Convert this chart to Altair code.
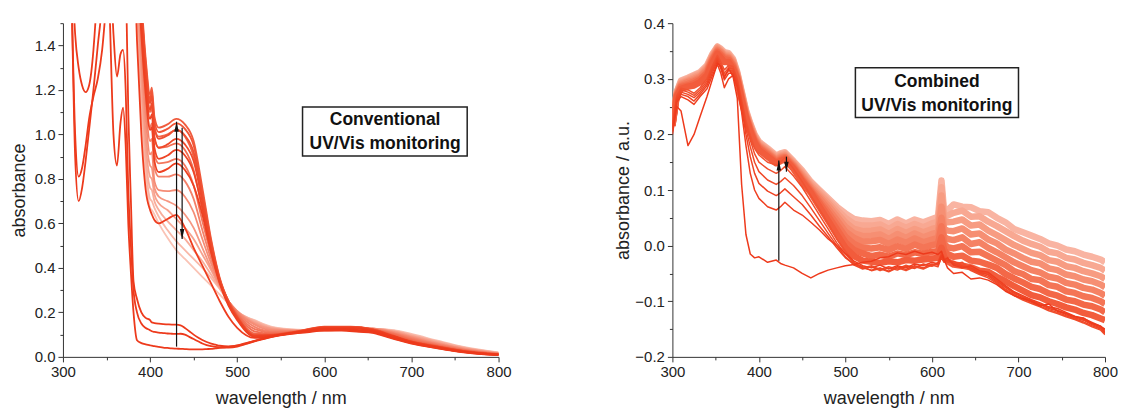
import altair as alt
import pandas as pd

# ---------------- LEFT PANEL: conventional UV/Vis monitoring ----------------
W1 = [300, 305, 310, 314, 318, 322, 326, 330, 335, 340,
      345, 350, 354, 358, 362, 366, 369, 372, 375, 378,
      381, 385, 390, 395, 400, 402, 405, 410, 415, 420,
      425, 430, 435, 440, 445, 450, 455, 460, 465, 470,
      475, 480, 490, 500, 510, 520, 530, 540, 560, 580,
      600, 620, 640, 655, 670, 685, 700, 720, 740, 760,
      780, 800]

A = [3.0, 2.4, 1.6, 0.9, 0.70, 0.76, 0.88, 1.02, 1.2, 1.4,
     1.6, 2.0, 1.5, 1.0, 0.86, 1.05, 1.12, 0.95, 0.6, 0.38,
     0.2, 0.075, 0.062, 0.056, 0.052, 0.05, 0.048, 0.045, 0.042, 0.04,
     0.038, 0.037, 0.036, 0.035, 0.034, 0.034, 0.034, 0.034, 0.035, 0.036,
     0.038, 0.04, 0.045, 0.052, 0.062, 0.072, 0.082, 0.09, 0.102, 0.11,
     0.118, 0.118, 0.112, 0.108, 0.092, 0.075, 0.06, 0.045, 0.032, 0.02,
     0.012, 0.008]
B = [3.0, 2.4, 1.6, 1.0, 0.81, 0.85, 0.95, 1.07, 1.17, 1.25,
     1.38, 1.6, 1.75, 1.45, 1.26, 1.36, 1.38, 1.2, 0.75, 0.5,
     0.3, 0.2, 0.15, 0.13, 0.12, 0.115, 0.112, 0.109, 0.107, 0.105,
     0.104, 0.103, 0.104, 0.1, 0.09, 0.08, 0.07, 0.06, 0.053, 0.048,
     0.045, 0.043, 0.042, 0.046, 0.058, 0.07, 0.08, 0.09, 0.104, 0.113,
     0.122, 0.122, 0.116, 0.112, 0.095, 0.077, 0.062, 0.046, 0.033, 0.021,
     0.013, 0.009]
C = [3.0, 2.5, 1.8, 1.45, 1.3, 1.22, 1.19, 1.22, 1.38, 1.7,
     2.2, 2.4, 2.3, 2.1, 1.9, 2.0, 2.0, 1.75, 1.1, 0.7,
     0.34, 0.26, 0.2, 0.175, 0.165, 0.155, 0.152, 0.149, 0.147, 0.146,
     0.145, 0.145, 0.142, 0.13, 0.115, 0.1, 0.087, 0.076, 0.067, 0.06,
     0.055, 0.05, 0.047, 0.05, 0.06, 0.072, 0.083, 0.093, 0.107, 0.117,
     0.126, 0.126, 0.12, 0.115, 0.098, 0.08, 0.064, 0.048, 0.034, 0.022,
     0.014, 0.01]

W2 = [380, 385, 390, 395, 400, 402, 405, 410, 420, 430,
      440, 450, 460, 470, 480, 490, 500, 520, 540, 570,
      600, 630, 655, 680, 700, 730, 760, 800]

D = [2.0, 1.42, 1.0, 0.75, 0.66, 0.64, 0.615, 0.60, 0.62, 0.638, 0.58, 0.49, 0.41, 0.33, 0.25, 0.18, 0.13, 0.085, 0.093, 0.11, 0.128, 0.128, 0.118, 0.092, 0.066, 0.043, 0.023, 0.01]
E1 = [2.3, 1.8, 1.45, 1.18, 1.02, 1.03, 0.88, 0.83, 0.845, 0.87, 0.84, 0.77, 0.64, 0.47, 0.33, 0.23, 0.165, 0.09, 0.095, 0.112, 0.13, 0.13, 0.12, 0.09, 0.066, 0.044, 0.024, 0.01]
E2 = [2.4, 1.85, 1.5, 1.22, 1.07, 1.09, 0.94, 0.89, 0.905, 0.93, 0.905, 0.83, 0.67, 0.48, 0.335, 0.235, 0.172, 0.093, 0.096, 0.112, 0.132, 0.132, 0.121, 0.091, 0.067, 0.045, 0.025, 0.01]
E3 = [2.4, 1.9, 1.55, 1.27, 1.11, 1.14, 0.99, 0.94, 0.955, 0.98, 0.955, 0.88, 0.70, 0.50, 0.34, 0.24, 0.175, 0.095, 0.097, 0.113, 0.133, 0.133, 0.122, 0.092, 0.068, 0.045, 0.025, 0.01]
E4 = [2.5, 1.95, 1.58, 1.3, 1.14, 1.17, 1.03, 0.98, 0.995, 1.02, 0.995, 0.92, 0.72, 0.51, 0.345, 0.245, 0.178, 0.096, 0.098, 0.114, 0.134, 0.134, 0.123, 0.092, 0.068, 0.046, 0.026, 0.011]
E5 = [2.5, 2.0, 1.6, 1.32, 1.16, 1.19, 1.06, 1.01, 1.025, 1.05, 1.025, 0.95, 0.74, 0.52, 0.35, 0.248, 0.18, 0.097, 0.099, 0.115, 0.135, 0.135, 0.124, 0.093, 0.069, 0.046, 0.026, 0.011]
E6 = [2.5, 2.0, 1.62, 1.34, 1.18, 1.21, 1.08, 1.03, 1.045, 1.07, 1.045, 0.97, 0.76, 0.53, 0.355, 0.25, 0.18, 0.098, 0.1, 0.116, 0.136, 0.136, 0.125, 0.094, 0.07, 0.047, 0.027, 0.011]
F1 = [2.5, 1.95, 1.58, 1.3, 1.15, 1.17, 1.03, 0.99, 1.0, 1.02, 0.99, 0.90, 0.70, 0.50, 0.345, 0.25, 0.185, 0.105, 0.1, 0.112, 0.13, 0.132, 0.123, 0.096, 0.072, 0.048, 0.027, 0.011]
F2 = [2.4, 1.9, 1.53, 1.25, 1.10, 1.12, 0.98, 0.94, 0.945, 0.96, 0.93, 0.84, 0.66, 0.48, 0.34, 0.25, 0.19, 0.115, 0.105, 0.113, 0.13, 0.132, 0.124, 0.1, 0.076, 0.05, 0.029, 0.012]
F3 = [2.3, 1.85, 1.47, 1.19, 1.03, 1.05, 0.91, 0.87, 0.875, 0.89, 0.86, 0.77, 0.61, 0.46, 0.335, 0.25, 0.195, 0.125, 0.11, 0.115, 0.128, 0.131, 0.125, 0.103, 0.08, 0.053, 0.031, 0.013]
F4 = [2.2, 1.8, 1.42, 1.13, 0.97, 0.98, 0.85, 0.81, 0.81, 0.82, 0.79, 0.71, 0.57, 0.44, 0.33, 0.25, 0.2, 0.135, 0.115, 0.116, 0.126, 0.13, 0.126, 0.106, 0.084, 0.056, 0.033, 0.014]
F5 = [2.2, 1.75, 1.36, 1.07, 0.91, 0.92, 0.79, 0.75, 0.745, 0.75, 0.72, 0.65, 0.53, 0.42, 0.325, 0.25, 0.205, 0.145, 0.12, 0.117, 0.124, 0.129, 0.127, 0.109, 0.088, 0.059, 0.035, 0.015]
F6 = [2.1, 1.7, 1.3, 1.0, 0.86, 0.85, 0.76, 0.72, 0.70, 0.68, 0.64, 0.58, 0.49, 0.40, 0.32, 0.25, 0.205, 0.15, 0.125, 0.118, 0.122, 0.128, 0.127, 0.112, 0.091, 0.062, 0.037, 0.016]
F7 = [2.1, 1.65, 1.25, 0.95, 0.81, 0.80, 0.73, 0.69, 0.66, 0.62, 0.58, 0.53, 0.46, 0.39, 0.315, 0.25, 0.205, 0.155, 0.128, 0.119, 0.12, 0.127, 0.127, 0.114, 0.094, 0.065, 0.039, 0.017]
F8 = [2.0, 1.6, 1.2, 0.9, 0.76, 0.75, 0.70, 0.66, 0.61, 0.57, 0.53, 0.48, 0.43, 0.37, 0.31, 0.25, 0.205, 0.16, 0.13, 0.12, 0.119, 0.126, 0.127, 0.116, 0.097, 0.068, 0.041, 0.018]
F9 = [2.0, 1.55, 1.15, 0.86, 0.71, 0.70, 0.67, 0.63, 0.57, 0.52, 0.48, 0.44, 0.40, 0.355, 0.305, 0.25, 0.205, 0.163, 0.133, 0.121, 0.118, 0.125, 0.127, 0.118, 0.1, 0.07, 0.043, 0.019]
F10 = [1.9, 1.5, 1.1, 0.82, 0.67, 0.66, 0.64, 0.60, 0.535, 0.48, 0.44, 0.40, 0.36, 0.32, 0.28, 0.24, 0.2, 0.165, 0.135, 0.122, 0.117, 0.124, 0.127, 0.12, 0.103, 0.073, 0.045, 0.02]

LEFT_SERIES = [("F10", W2, F10), ("F9", W2, F9), ("F8", W2, F8), ("F7", W2, F7),
               ("F6", W2, F6), ("F5", W2, F5), ("F4", W2, F4), ("F3", W2, F3),
               ("F2", W2, F2), ("F1", W2, F1), ("E6", W2, E6), ("E5", W2, E5),
               ("E4", W2, E4), ("E3", W2, E3), ("E2", W2, E2), ("E1", W2, E1),
               ("D", W2, D), ("C", W1, C), ("B", W1, B), ("A", W1, A)]
LEFT_COLORS = ["#fac3b5", "#f9b8a8", "#f8ad9b", "#f7a28e", "#f69782", "#f58c75",
               "#f48169", "#f3775d", "#f26d52", "#f16447", "#f05c3e", "#f05537",
               "#ef4f31", "#ef4a2b", "#ee4526", "#ee4122", "#ee3d1f", "#ed3a1c",
               "#ed3a1c", "#ed3a1c"]

# ---------------- RIGHT PANEL: combined UV/Vis monitoring ----------------
WR = [300, 305, 310, 318, 325, 332, 340, 346, 352, 356,
      360, 365, 370, 375, 380, 385, 390, 395, 400, 410,
      420, 425, 430, 440, 450, 460, 470, 480, 490, 500,
      510, 520, 530, 540, 550, 560, 570, 580, 590, 600,
      607, 611, 614, 618, 625, 635, 645, 655, 665, 675,
      685, 695, 705, 715, 725, 735, 745, 755, 765, 775,
      785, 795, 800]

R1 = [0.20, 0.25, 0.242, 0.18, 0.2, 0.232, 0.268, 0.298, 0.328, 0.322, 0.302, 0.318, 0.305, 0.265, 0.11,
      0.02, -0.015, -0.022, -0.02, -0.03, -0.026, -0.032, -0.035, -0.04, -0.05, -0.058, -0.05, -0.044, -0.04, -0.036,
      -0.034, -0.03, -0.028, -0.022, -0.02, -0.013, -0.016, -0.01, -0.015, -0.012, -0.016, -0.01, -0.025, -0.04, -0.05,
      -0.048, -0.06, -0.058, -0.062, -0.07, -0.082, -0.09, -0.095, -0.1, -0.108, -0.105, -0.118, -0.122, -0.128, -0.13,
      -0.14, -0.145, -0.15]
R2 = [0.205, 0.258, 0.268, 0.262, 0.254, 0.268, 0.282, 0.305, 0.326, 0.31, 0.284, 0.3, 0.306, 0.285, 0.24,
      0.18, 0.13, 0.1, 0.085, 0.07, 0.064, 0.07, 0.078, 0.064, 0.055, 0.042, 0.028, 0.012, 0.0, -0.014,
      -0.028, -0.036, -0.04, -0.035, -0.042, -0.036, -0.04, -0.033, -0.036, -0.03, -0.033, -0.018, -0.026, -0.022, -0.035,
      -0.04, -0.036, -0.045, -0.048, -0.06, -0.072, -0.083, -0.09, -0.097, -0.103, -0.11, -0.113, -0.12, -0.127, -0.131,
      -0.138, -0.145, -0.155]
R3 = [0.21, 0.262, 0.272, 0.268, 0.26, 0.272, 0.288, 0.31, 0.332, 0.318, 0.298, 0.31, 0.31, 0.29, 0.25,
      0.2, 0.16, 0.13, 0.112, 0.098, 0.09, 0.095, 0.102, 0.088, 0.074, 0.055, 0.035, 0.016, -0.004, -0.022,
      -0.033, -0.04, -0.044, -0.04, -0.046, -0.038, -0.043, -0.036, -0.04, -0.033, -0.035, -0.022, -0.03, -0.026, -0.032,
      -0.038, -0.04, -0.048, -0.052, -0.064, -0.075, -0.086, -0.093, -0.1, -0.106, -0.113, -0.117, -0.124, -0.13, -0.134,
      -0.142, -0.148, -0.157]
R4 = [0.212, 0.265, 0.276, 0.272, 0.266, 0.276, 0.292, 0.315, 0.335, 0.322, 0.305, 0.315, 0.314, 0.295, 0.255,
      0.21, 0.178, 0.15, 0.133, 0.118, 0.11, 0.115, 0.122, 0.108, 0.09, 0.068, 0.045, 0.022, 0.0, -0.02,
      -0.035, -0.042, -0.038, -0.045, -0.04, -0.044, -0.037, -0.041, -0.034, -0.036, -0.03, -0.015, -0.024, -0.03, -0.028,
      -0.036, -0.042, -0.05, -0.055, -0.066, -0.078, -0.088, -0.096, -0.102, -0.109, -0.115, -0.12, -0.126, -0.132, -0.137,
      -0.144, -0.15, -0.158]
R5 = [0.215, 0.268, 0.28, 0.276, 0.27, 0.28, 0.296, 0.32, 0.338, 0.326, 0.31, 0.32, 0.318, 0.298, 0.26,
      0.22, 0.19, 0.165, 0.15, 0.138, 0.13, 0.135, 0.142, 0.125, 0.105, 0.08, 0.055, 0.03, 0.005, -0.015,
      -0.032, -0.038, -0.045, -0.041, -0.047, -0.04, -0.045, -0.038, -0.042, -0.035, -0.038, -0.02, -0.028, -0.024, -0.034,
      -0.03, -0.045, -0.052, -0.058, -0.068, -0.08, -0.09, -0.098, -0.104, -0.11, -0.117, -0.122, -0.128, -0.133, -0.139,
      -0.146, -0.152, -0.16]
R6 = [0.218, 0.27, 0.283, 0.28, 0.274, 0.284, 0.3, 0.323, 0.342, 0.33, 0.316, 0.324, 0.322, 0.3, 0.262,
      0.225, 0.198, 0.175, 0.163, 0.15, 0.145, 0.15, 0.158, 0.138, 0.115, 0.09, 0.065, 0.04, 0.012, -0.01,
      -0.03, -0.04, -0.036, -0.043, -0.038, -0.042, -0.035, -0.04, -0.033, -0.037, -0.032, -0.012, -0.02, -0.028, -0.03,
      -0.034, -0.038, -0.046, -0.05, -0.062, -0.074, -0.084, -0.092, -0.098, -0.105, -0.111, -0.116, -0.122, -0.128, -0.133,
      -0.14, -0.146, -0.152]
L1 = [0.215, 0.268, 0.282, 0.286, 0.288, 0.294, 0.306, 0.328, 0.345, 0.338, 0.33, 0.33, 0.318, 0.298, 0.262,
      0.23, 0.205, 0.185, 0.172, 0.16, 0.148, 0.152, 0.155, 0.138, 0.115, 0.095, 0.07, 0.045, 0.02,
      -0.004, -0.019, -0.027, -0.029, -0.031, -0.028, -0.03, -0.026, -0.027, -0.025, -0.023, -0.022, -0.004, -0.02,
      -0.028, -0.034, -0.036, -0.039, -0.045, -0.047, -0.056, -0.064, -0.073, -0.081, -0.089, -0.093, -0.1, -0.105,
      -0.111, -0.115, -0.121, -0.125, -0.131, -0.134]
L2 = [0.216, 0.27, 0.285, 0.288, 0.292, 0.298, 0.31, 0.332, 0.348, 0.342, 0.335, 0.334, 0.322, 0.3, 0.265,
      0.232, 0.208, 0.188, 0.175, 0.163, 0.15, 0.154, 0.157, 0.14, 0.118, 0.098, 0.076, 0.053, 0.03,
      0.006, -0.008, -0.014, -0.019, -0.016, -0.02, -0.014, -0.017, -0.012, -0.015, -0.011, -0.01, 0.015, -0.008,
      -0.015, -0.02, -0.018, -0.027, -0.029, -0.034, -0.04, -0.051, -0.059, -0.066, -0.074, -0.078, -0.086, -0.09,
      -0.097, -0.1, -0.106, -0.109, -0.115, -0.12]
L3 = [0.217, 0.271, 0.287, 0.291, 0.295, 0.3, 0.312, 0.334, 0.35, 0.344, 0.338, 0.336, 0.325, 0.302, 0.267,
      0.234, 0.21, 0.19, 0.177, 0.165, 0.152, 0.156, 0.159, 0.142, 0.12, 0.1, 0.08, 0.06, 0.038,
      0.016, 0.003, -0.004, -0.005, -0.003, -0.008, -0.001, -0.006, 0.002, -0.004, 0.001, 0.003, 0.035, 0.004,
      -0.003, -0.005, -0.001, -0.012, -0.011, -0.019, -0.027, -0.035, -0.046, -0.051, -0.06, -0.062, -0.071, -0.074,
      -0.082, -0.085, -0.091, -0.094, -0.1, -0.105]
L4 = [0.218, 0.272, 0.289, 0.294, 0.297, 0.303, 0.315, 0.336, 0.352, 0.347, 0.34, 0.338, 0.327, 0.304, 0.27,
      0.236, 0.212, 0.192, 0.179, 0.167, 0.154, 0.158, 0.16, 0.144, 0.123, 0.103, 0.085, 0.066, 0.046,
      0.025, 0.014, 0.007, 0.008, 0.01, 0.003, 0.011, 0.005, 0.013, 0.006, 0.011, 0.014, 0.05, 0.016,
      0.012, 0.01, 0.015, 0.003, 0.006, -0.004, -0.012, -0.021, -0.03, -0.037, -0.044, -0.048, -0.056, -0.059,
      -0.067, -0.07, -0.076, -0.079, -0.085, -0.09]
L5 = [0.219, 0.274, 0.291, 0.296, 0.3, 0.305, 0.318, 0.338, 0.354, 0.349, 0.342, 0.34, 0.33, 0.306, 0.272,
      0.238, 0.214, 0.194, 0.181, 0.169, 0.156, 0.16, 0.162, 0.146, 0.126, 0.106, 0.089, 0.072, 0.053,
      0.034, 0.022, 0.017, 0.018, 0.02, 0.012, 0.021, 0.014, 0.022, 0.015, 0.021, 0.024, 0.07, 0.03,
      0.027, 0.026, 0.031, 0.02, 0.022, 0.011, 0.004, -0.007, -0.014, -0.022, -0.029, -0.032, -0.041, -0.044,
      -0.052, -0.055, -0.061, -0.064, -0.07, -0.075]
L6 = [0.22, 0.275, 0.293, 0.298, 0.303, 0.308, 0.32, 0.34, 0.356, 0.35, 0.344, 0.342, 0.332, 0.308, 0.274,
      0.24, 0.216, 0.196, 0.183, 0.171, 0.158, 0.162, 0.164, 0.148, 0.129, 0.109, 0.093, 0.077, 0.059,
      0.042, 0.03, 0.026, 0.027, 0.029, 0.021, 0.03, 0.023, 0.03, 0.024, 0.03, 0.033, 0.09, 0.042,
      0.042, 0.043, 0.047, 0.036, 0.038, 0.027, 0.019, 0.01, 0.001, -0.006, -0.013, -0.017, -0.026, -0.029,
      -0.037, -0.04, -0.046, -0.05, -0.055, -0.06]
L7 = [0.22, 0.276, 0.295, 0.3, 0.305, 0.31, 0.322, 0.342, 0.357, 0.352, 0.346, 0.344, 0.334, 0.31, 0.276,
      0.242, 0.218, 0.198, 0.185, 0.173, 0.16, 0.164, 0.166, 0.15, 0.132, 0.112, 0.097, 0.081, 0.065,
      0.05, 0.039, 0.036, 0.036, 0.038, 0.03, 0.039, 0.032, 0.039, 0.033, 0.04, 0.043, 0.105, 0.052,
      0.054, 0.059, 0.063, 0.052, 0.053, 0.043, 0.035, 0.026, 0.017, 0.009, 0.003, -0.002, -0.011, -0.014,
      -0.022, -0.025, -0.031, -0.035, -0.04, -0.045]
L8 = [0.221, 0.277, 0.297, 0.302, 0.307, 0.312, 0.324, 0.344, 0.358, 0.354, 0.348, 0.346, 0.336, 0.312, 0.278,
      0.244, 0.22, 0.2, 0.187, 0.175, 0.162, 0.166, 0.168, 0.152, 0.135, 0.115, 0.1, 0.085, 0.07,
      0.058, 0.048, 0.045, 0.044, 0.046, 0.039, 0.047, 0.04, 0.047, 0.042, 0.048, 0.052, 0.117, 0.062,
      0.064, 0.074, 0.07, 0.069, 0.062, 0.06, 0.05, 0.042, 0.03, 0.024, 0.018, 0.012, 0.004, 0.0,
      -0.007, -0.01, -0.016, -0.02, -0.025, -0.03]

RIGHT_LIGHT = [("L8", WR, L8), ("L7", WR, L7), ("L6", WR, L6), ("L5", WR, L5),
               ("L4", WR, L4), ("L3", WR, L3), ("L2", WR, L2), ("L1", WR, L1)]
RIGHT_DARK = [("R6", WR, R6), ("R5", WR, R5), ("R4", WR, R4), ("R3", WR, R3),
              ("R2", WR, R2), ("R1", WR, R1)]
RIGHT_LIGHT_COLORS = ["#f9b4a2", "#f8a892", "#f79c82", "#f68f73", "#f58264", "#f47556", "#f36848", "#f25c3c"]
RIGHT_DARK_COLORS = ["#f15332", "#f04e2d", "#f04928", "#ef4424", "#ef3f20", "#ee3a1c"]

# ---------------- annotations ----------------
LEFT_ARROW_W = [430.4, 436.8]
LEFT_ARROW_FROM = [0.046, 1.03]
LEFT_ARROW_TO = [1.057, 0.53]
RIGHT_ARROW_W = [423.0, 431.8]
RIGHT_ARROW_FROM = [-0.027, 0.160]
RIGHT_ARROW_TO = [0.153, 0.133]

LEFT_BOX = {"x1": 575, "x2": 764, "y1": 1.123, "y2": 0.903, "tx": 669.8, "ty": 1.063,
            "text": "Conventional\nUV/Vis monitoring"}
RIGHT_BOX = {"x1": 511.5, "x2": 700, "y1": 0.320, "y2": 0.2306, "tx": 605.7, "ty": 0.295,
             "text": "Combined\nUV/Vis monitoring"}

X_MAJOR = [300, 400, 500, 600, 700, 800]
X_MINOR = [350, 450, 550, 650, 750]
YL_MAJOR = [0.0, 0.2, 0.4, 0.6, 0.8, 1.0, 1.2, 1.4]
YL_MINOR = [0.1, 0.3, 0.5, 0.7, 0.9, 1.1, 1.3, 1.5]
YR_MAJOR = [-0.2, -0.1, 0.0, 0.1, 0.2, 0.3, 0.4]
YR_MINOR = [-0.15, -0.05, 0.05, 0.15, 0.25, 0.35]

FONT = "Liberation Sans"
AX = "#333333"


def frame(series):
    rows = []
    for rank, (name, wl, vals) in enumerate(series):
        assert len(wl) == len(vals), (name, len(wl), len(vals))
        for w, v in zip(wl, vals):
            rows.append({"series": name, "rank": rank, "wl": w, "a": v})
    return pd.DataFrame(rows)


def make_panel(line_layers, arrows, box, ydomain, ymajor, yminor, ytitle, title_x, w, h):
    xs = alt.Scale(domain=[300, 800], nice=False, zero=False)
    ys = alt.Scale(domain=ydomain, nice=False, zero=False)
    x_major = alt.Axis(values=X_MAJOR, format="d", orient="bottom", tickSize=5, labelPadding=3,
                       labelFlush=False, labelOverlap=False,
                       title="wavelength / nm", titleY=47, titleBaseline="alphabetic")
    x_minor = alt.Axis(values=X_MINOR, orient="bottom", tickSize=3, labels=False, domain=False, title=None)
    y_major = alt.Axis(values=ymajor, format=".1f", orient="left", tickSize=5, labelPadding=3,
                       labelFlush=False, labelOverlap=False,
                       title=ytitle, titleX=title_x, titleY=h / 2, titleAngle=270,
                       titleBaseline="middle", titleAlign="center")
    y_minor = alt.Axis(values=yminor, orient="left", tickSize=3, labels=False, domain=False, title=None)

    def X(f, axis=None):
        return alt.X(f, type="quantitative", scale=xs, axis=axis)

    def Y(f, axis=None):
        return alt.Y(f, type="quantitative", scale=ys, axis=axis)

    layers = []
    first = True
    for df, names, colors, sw, interp in line_layers:
        layers.append(
            alt.Chart(df).mark_line(clip=True, strokeWidth=sw, interpolate=interp,
                                    strokeJoin="round").encode(
                x=X("wl", x_major if first else None),
                y=Y("a", y_major if first else None),
                color=alt.Color("series:N", scale=alt.Scale(domain=names, range=colors), legend=None),
            )
        )
        first = False
    aw, afrom, ato = arrows
    adf = pd.DataFrame({"w": aw, "a0": afrom, "a1": ato})
    adf["up"] = adf["a1"] > adf["a0"]
    layers.append(alt.Chart(adf).mark_rule(color="#111111", strokeWidth=1.2).encode(
        x=X("w"), y=Y("a0"), y2="a1"))
    layers.append(alt.Chart(adf[adf["up"]]).mark_point(
        shape="M0,-1L0.45,1L-0.45,1Z", filled=True, color="#111111", opacity=1, size=100, yOffset=5
    ).encode(x=X("w"), y=Y("a1")))
    layers.append(alt.Chart(adf[~adf["up"]]).mark_point(
        shape="M0,1L0.45,-1L-0.45,-1Z", filled=True, color="#111111", opacity=1, size=100, yOffset=-5
    ).encode(x=X("w"), y=Y("a1")))
    bdf = pd.DataFrame([box])
    layers.append(alt.Chart(bdf).mark_rect(fill="white", stroke="#222222", strokeWidth=1.5).encode(
        x=X("x1", x_minor), x2="x2", y=Y("y1", y_minor), y2="y2"))
    layers.append(alt.Chart(bdf).mark_text(font=FONT, fontSize=17.5, fontWeight="bold", lineBreak="\n",
                                           lineHeight=24, align="center", baseline="middle",
                                           color="#111111").encode(
        x=X("tx"), y=Y("ty"), text="text:N"))
    return alt.layer(*layers).resolve_scale(color="independent").resolve_axis(
        x="independent", y="independent").properties(width=w, height=h)


left_df = frame(LEFT_SERIES)
left = make_panel(
    [(left_df, [s[0] for s in LEFT_SERIES], LEFT_COLORS, 1.8, "monotone")],
    (LEFT_ARROW_W, LEFT_ARROW_FROM, LEFT_ARROW_TO), LEFT_BOX,
    [0, 1.5], YL_MAJOR, YL_MINOR, "absorbance", -43, 436, 334)

rl_df = frame(RIGHT_LIGHT)
rd_df = frame(RIGHT_DARK)
right = make_panel(
    [(rl_df, [s[0] for s in RIGHT_LIGHT], RIGHT_LIGHT_COLORS, 6.5, "linear"),
     (rd_df, [s[0] for s in RIGHT_DARK], RIGHT_DARK_COLORS, 1.5, "linear")],
    (RIGHT_ARROW_W, RIGHT_ARROW_FROM, RIGHT_ARROW_TO), RIGHT_BOX,
    [-0.2, 0.4], YR_MAJOR, YR_MINOR, "absorbance / a.u.", -49, 433, 334)

chart = alt.hconcat(left, right, spacing=174, bounds="flush").properties(
    padding={"left": 3, "top": 8, "right": 0, "bottom": 0},
    background="white",
).configure_view(stroke=None).configure_axis(
    labelFont=FONT, titleFont=FONT, labelFontSize=15, titleFontSize=18,
    titleFontWeight="normal", labelColor="#222222", titleColor="#222222",
    domainColor=AX, tickColor=AX, domainWidth=1, tickWidth=1, grid=False,
)

chart.save("out.html", embed_options={"renderer": "svg", "actions": False})
